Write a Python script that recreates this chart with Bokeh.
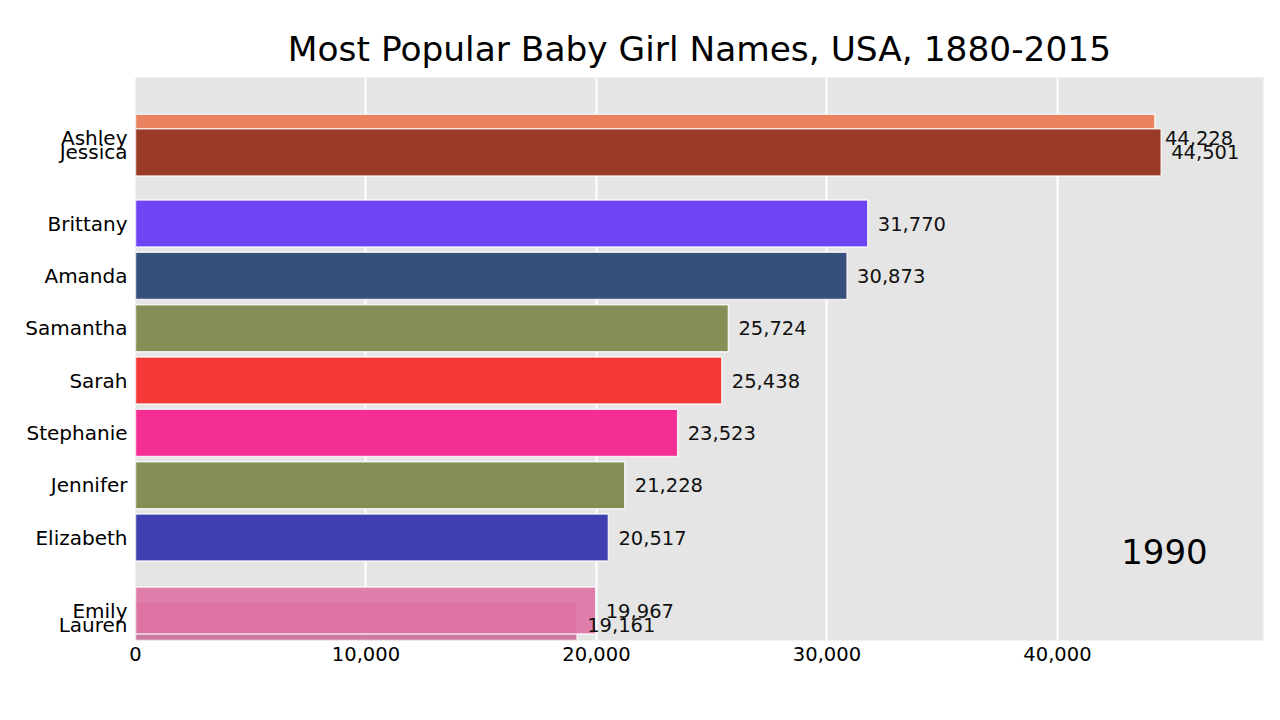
from bokeh.plotting import figure
from bokeh.models import Range1d, FixedTicker, NumeralTickFormatter, Label, ColumnDataSource
from bokeh.embed import file_html
from bokeh.resources import INLINE
from bokeh.core.properties import value

# Data (frame of 1990)
names = ["Ashley", "Jessica", "Brittany", "Amanda", "Samantha", "Sarah",
         "Stephanie", "Jennifer", "Elizabeth", "Lauren", "Emily"]
counts = [44228, 44501, 31770, 30873, 25724, 25438, 23523, 21228, 20517, 19161, 19967]
# fractional rank positions (bar-race interpolation, larger = higher)
ranks = [10.64, 10.36, 9.0, 8.0, 7.0, 6.0, 5.0, 4.0, 3.0, 1.32, 1.605]
colors = ["#E8825F", "#993B27", "#6E44F4", "#374F7B", "#838F55", "#F53838",
          "#F52E94", "#838F55", "#3F3FB0", "#C5608F", "#DE72A3"]
alphas = [1.0, 1.0, 1.0, 1.0, 1.0, 1.0, 1.0, 1.0, 1.0, 0.8, 0.9]
year = "1990"
title = "Most Popular Baby Girl Names, USA, 1880-2015"
x_ticks = [0, 10000, 20000, 30000, 40000]

labels = [f"{c:,}" for c in counts]
src = ColumnDataSource(dict(name=names, count=counts, rank=ranks, color=colors,
                            alpha=alphas, label=labels))

FONT = "DejaVu Sans"

p = figure(width=1280, height=720, output_backend="svg", toolbar_location=None,
           x_range=Range1d(0, 48940), y_range=Range1d(1.032, 11.79),
           min_border_left=135, min_border_right=17, min_border_top=77,
           min_border_bottom=80, title=title)

p.background_fill_color = "#E5E5E5"
p.border_fill_color = "white"
p.outline_line_color = None

p.title.text_font = FONT
p.title.text_font_size = "34.4px"
p.title.text_font_style = "normal"
p.title.align = "center"
p.title.text_color = "black"
p.title.standoff = 18

p.hbar(y="rank", right="count", left=0, height=0.9, source=src,
       fill_color="color", fill_alpha="alpha", line_color="white",
       line_width=1.5, line_alpha=0.8)

p.text(x="count", y="rank", text="label", source=src, x_offset=10,
       text_baseline="middle", text_align="left", text_font=value(FONT),
       text_font_size="19.5px", text_color="#111111")

# axes
p.xaxis.ticker = FixedTicker(ticks=x_ticks)
p.xaxis.formatter = NumeralTickFormatter(format="0,0")
p.yaxis.ticker = FixedTicker(ticks=ranks)
p.yaxis.major_label_overrides = {r: n for r, n in zip(ranks, names)}
for ax in (p.xaxis, p.yaxis):
    ax.axis_line_color = None
    ax.major_tick_line_color = None
    ax.minor_tick_line_color = None
    ax.major_tick_out = 0
    ax.major_tick_in = 0
    ax.major_label_text_font = FONT
    ax.major_label_text_color = "black"
p.xaxis.major_label_text_font_size = "19.5px"
p.yaxis.major_label_text_font_size = "20px"
p.xaxis.major_label_standoff = 6
p.yaxis.major_label_standoff = 8

p.xgrid.ticker = FixedTicker(ticks=x_ticks)
p.xgrid.grid_line_color = "white"
p.xgrid.grid_line_width = 2
p.ygrid.grid_line_color = None

p.add_layout(Label(x=44640, y=2.735, text=year, text_align="center",
                   text_baseline="alphabetic", text_font=FONT,
                   text_font_size="34px", text_color="black"))

open("out.html", "w").write(file_html(p, INLINE))
